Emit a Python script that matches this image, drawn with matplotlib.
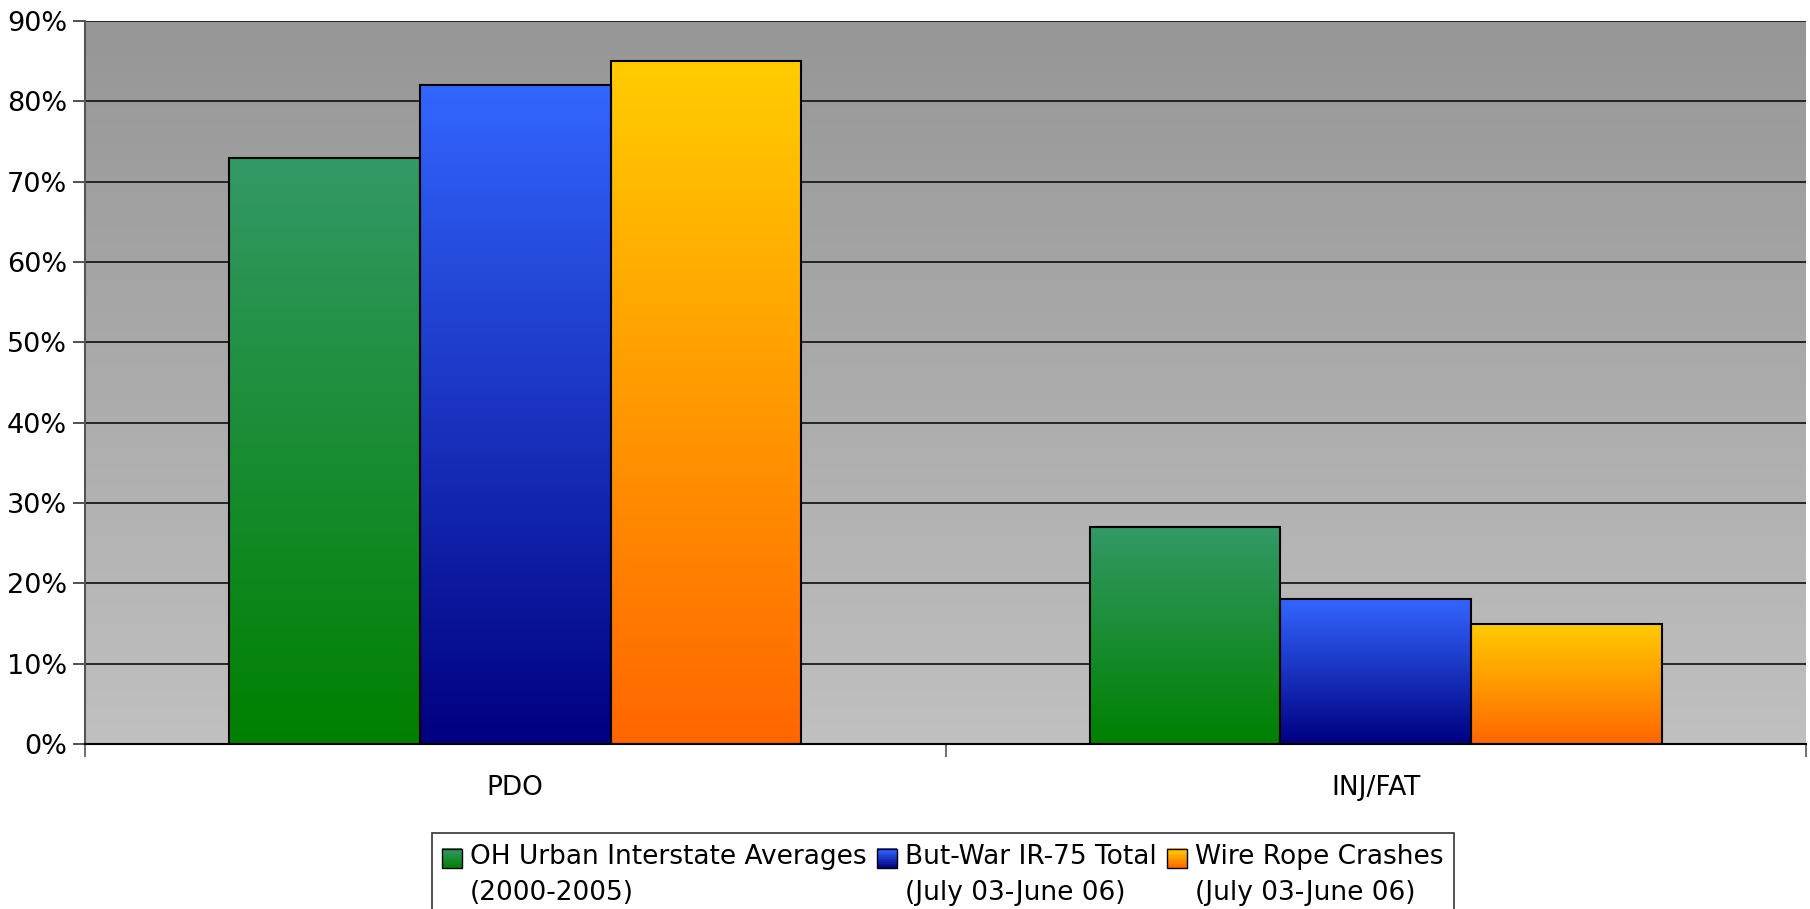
import numpy as np
import matplotlib.pyplot as plt
from matplotlib.colors import LinearSegmentedColormap
from matplotlib.patches import Rectangle
from matplotlib.legend_handler import HandlerBase

plt.rcParams['font.family'] = ['DejaVu Sans']

categories = ['PDO', 'INJ/FAT']
series_names = ['OH Urban Interstate Averages\n(2000-2005)',
                'But-War IR-75 Total\n(July 03-June 06)',
                'Wire Rope Crashes\n(July 03-June 06)']
values = [
    [73, 27],   # OH urban interstate averages
    [82, 18],   # But-War IR-75
    [85, 15],   # wire rope crashes
]
yticks = [0, 10, 20, 30, 40, 50, 60, 70, 80, 90]

# (top colour, bottom colour) of each series' vertical gradient
grads = [('#339966', '#008000'), ('#3366ff', '#000080'), ('#ffcc00', '#ff6600')]

fig = plt.figure(figsize=(18.1, 9.09), dpi=100)
ax = fig.add_axes([0.047, 0.1815, 0.9508, 0.7954])

# plot area background gradient
bg = LinearSegmentedColormap.from_list('bg', ['#c0c0c0', '#969696'])
ax.imshow(np.linspace(0, 1, 256).reshape(-1, 1), cmap=bg, origin='lower',
          aspect='auto', extent=[0, 1, 0, 1], transform=ax.transAxes, zorder=0)

x = np.arange(len(categories))
w = 0.2217
for i, (vals, (top, bot)) in enumerate(zip(values, grads)):
    cmap = LinearSegmentedColormap.from_list('g%d' % i, [bot, top])
    bars = ax.bar(x + (i - 1) * w, vals, w, facecolor='none',
                  edgecolor='black', linewidth=1.5, zorder=3)
    for b in bars:
        x0, y0 = b.get_x(), b.get_y()
        im = ax.imshow(np.linspace(0, 1, 256).reshape(-1, 1), cmap=cmap,
                       origin='lower', aspect='auto',
                       extent=[x0, x0 + b.get_width(), y0, y0 + b.get_height()],
                       zorder=2)
        im.set_clip_path(b)

ax.set_xlim(-0.5, 1.5)
ax.set_ylim(0, 90)
ax.set_yticks(yticks)
ax.set_yticklabels(['%d%%' % t for t in yticks])
ax.yaxis.grid(True, color='#1a1a1a', linewidth=1.3, zorder=1)
ax.set_axisbelow(True)

ax.set_xticks([-0.5, 0.5, 1.5])
ax.set_xticklabels([])
ax.set_xticks(x, minor=True)
ax.set_xticklabels(categories, minor=True)
ax.tick_params(axis='x', which='major', length=9, width=1.2, color='#555555')
ax.tick_params(axis='x', which='minor', length=0, pad=22, labelsize=19)
ax.tick_params(axis='y', length=9, width=1.2, color='#333333', labelsize=19.5,
               pad=4)

for s in ['top', 'right']:
    ax.spines[s].set_visible(False)
ax.spines['left'].set_color('#555555')
ax.spines['left'].set_linewidth(1.5)
ax.spines['bottom'].set_color('black')
ax.spines['bottom'].set_linewidth(1.5)


class GradientHandler(HandlerBase):
    def __init__(self, top, bot):
        super().__init__()
        self.top, self.bot = top, bot

    def create_artists(self, legend, orig_handle, xdescent, ydescent,
                       width, height, fontsize, trans):
        cmap = LinearSegmentedColormap.from_list('h', [self.bot, self.top])
        side = min(width, height * 1.1)
        x0 = -xdescent + (width - side) / 2
        y0 = -ydescent + (height - side) / 2 + height * 0.8
        n = 12
        arts = []
        for k in range(n):
            r = Rectangle((x0, y0 + side * k / n), side, side / n + 0.3,
                          facecolor=cmap(k / (n - 1)), edgecolor='none',
                          transform=trans)
            arts.append(r)
        arts.append(Rectangle((x0, y0), side, side, facecolor='none',
                              edgecolor='black', linewidth=1, transform=trans))
        return arts


handles = [Rectangle((0, 0), 1, 1) for _ in grads]
leg = fig.legend(handles, series_names, loc='upper center',
                 bbox_to_anchor=(0.521, 0.0836), borderaxespad=0, ncol=3,
                 fontsize=19, frameon=True, fancybox=False, edgecolor='black',
                 handlelength=0.75, handleheight=0.85, handletextpad=0.3,
                 columnspacing=0.4, borderpad=0.4, labelspacing=0.2,
                 handler_map={h: GradientHandler(t, b)
                              for h, (t, b) in zip(handles, grads)})
leg.get_frame().set_linewidth(1.2)
for t in leg.get_texts():
    t.set_linespacing(1.5)

fig.savefig('out.png', dpi=100)
